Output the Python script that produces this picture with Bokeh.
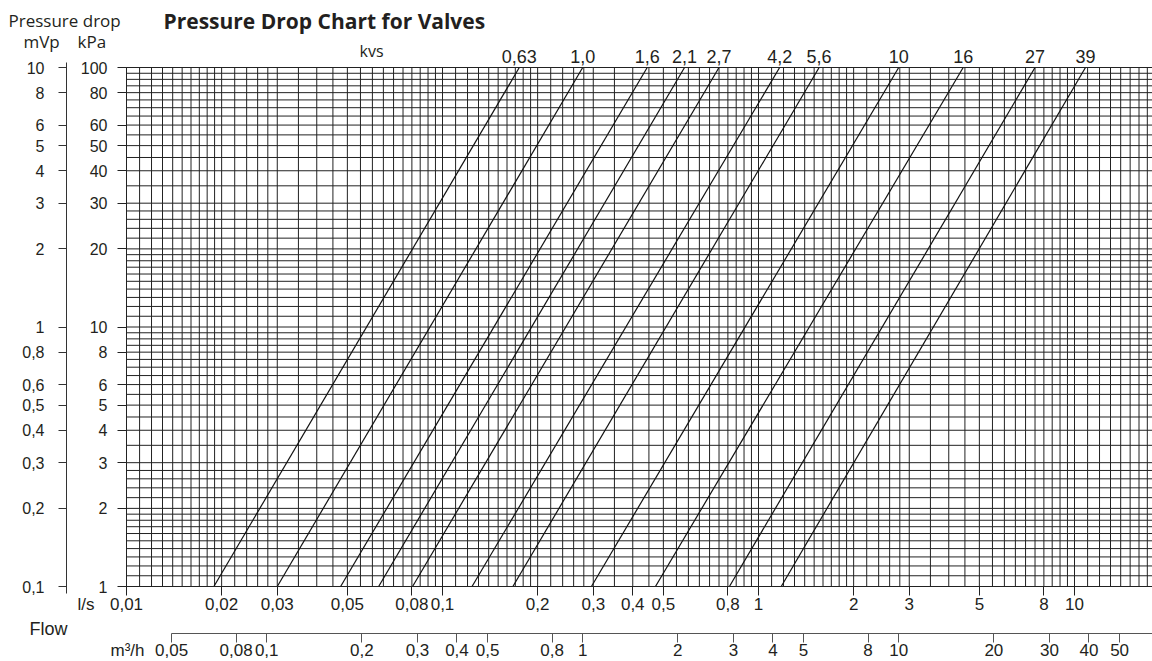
from bokeh.plotting import figure
from bokeh.models import (LogAxis, Range1d, FixedTicker, CustomJSTickFormatter,
                          Label, LogScale)
from bokeh.embed import file_html
from bokeh.resources import INLINE

# ---------------- data ----------------
kvs_values = [0.63, 1.0, 1.6, 2.1, 2.7, 4.2, 5.6, 10, 16, 27, 39]
kvs_labels = ["0,63", "1,0", "1,6", "2,1", "2,7", "4,2", "5,6", "10", "16", "27", "39"]
# flow (l/s) where each kvs line reaches 1 kPa
flow_at_1kpa_ls = [0.0189, 0.0300, 0.0476, 0.0628, 0.0804, 0.124, 0.167,
                   0.296, 0.472, 0.809, 1.18]
dp_top_kpa = 100
dp_bottom_kpa = 1
M3H_PER_LS = 3.6
MVP_PER_KPA = 0.1

ls_ticks = [0.01, 0.02, 0.03, 0.05, 0.08, 0.1, 0.2, 0.3, 0.4, 0.5, 0.8,
            1, 2, 3, 5, 8, 10]
m3h_ticks = [0.05, 0.08, 0.1, 0.2, 0.3, 0.4, 0.5, 0.8, 1, 2, 3, 4, 5, 8,
             10, 20, 30, 40, 50]
kpa_ticks = [1, 2, 3, 4, 5, 6, 8, 10, 20, 30, 40, 50, 60, 80, 100]
mvp_ticks = [0.1, 0.2, 0.3, 0.4, 0.5, 0.6, 0.8, 1, 2, 3, 4, 5, 6, 8, 10]

grid_mantissas = [1.0, 1.1, 1.2, 1.3, 1.4, 1.5, 1.6, 1.7, 1.8, 1.9,
                  2.0, 2.2, 2.4, 2.6, 2.8,
                  3.0, 3.5, 4.0, 4.5, 5.0, 5.5, 6.0, 6.5, 7.0, 7.5,
                  8.0, 8.5, 9.0, 9.5]
x_decades = [0.01, 0.1, 1, 10]
y_decades = [1, 10, 100]
FLOW_MIN_LS = 0.01

# ---------------- layout (page pixels) ----------------
W, H = 1152, 661
X0_PX, Y0_PX = 126, 586        # where 0.01 l/s and 1 kPa sit
PX_DEC_X, PX_DEC_Y = 316, 259.5


def x_at(px):
    return FLOW_MIN_LS * 10 ** ((px - X0_PX) / PX_DEC_X)


def y_at(py):
    return dp_bottom_kpa * 10 ** ((Y0_PX - py) / PX_DEC_Y)


X_END = x_at(W)

xgrid_vals = sorted({round(m * d, 6) for d in x_decades for m in grid_mantissas
                     if m * d <= X_END})
ygrid_vals = sorted({round(m * d, 6) for d in y_decades for m in grid_mantissas
                     if m * d <= dp_top_kpa})

TXT = "#231f20"
GRID = "#222222"
NUM_FONT = "Liberation Sans"
HEAD_FONT = "Open Sans"

p = figure(width=W, height=H, x_axis_type="log", y_axis_type="log",
           x_range=Range1d(x_at(0), x_at(W)), y_range=Range1d(y_at(H), y_at(0)),
           output_backend="svg", toolbar_location=None, min_border=0)
p.outline_line_color = None
p.background_fill_color = "white"
p.grid.visible = False

p.extra_x_ranges = {"m3h": Range1d(x_at(0) * M3H_PER_LS, x_at(W) * M3H_PER_LS)}
p.extra_x_scales = {"m3h": LogScale()}
p.extra_y_ranges = {"mvp": Range1d(y_at(H) * MVP_PER_KPA, y_at(0) * MVP_PER_KPA)}
p.extra_y_scales = {"mvp": LogScale()}

comma_fmt = CustomJSTickFormatter(code="return String(tick).replace('.', ',');")
kvs_fmt = CustomJSTickFormatter(args=dict(vals=kvs_values, labels=kvs_labels), code="""
    let best = 0;
    for (let i = 0; i < vals.length; i++) {
        if (Math.abs(Math.log(vals[i]) - Math.log(tick)) <
            Math.abs(Math.log(vals[best]) - Math.log(tick))) best = i;
    }
    return labels[best];
""")


def style_axis(ax, size="16px"):
    ax.formatter = comma_fmt
    ax.major_tick_in = 0
    ax.minor_tick_in = 0
    ax.minor_tick_out = 0
    ax.major_tick_line_color = GRID
    ax.axis_line_color = GRID
    ax.major_label_text_font = NUM_FONT
    ax.major_label_text_font_size = size
    ax.major_label_text_color = TXT


# ---- grid (drawn only inside the chart field) ----
p.segment(x0=xgrid_vals, y0=[dp_bottom_kpa] * len(xgrid_vals),
          x1=xgrid_vals, y1=[dp_top_kpa] * len(xgrid_vals),
          line_color=GRID, line_width=1)
p.segment(x0=[FLOW_MIN_LS] * len(ygrid_vals), y0=ygrid_vals,
          x1=[X_END] * len(ygrid_vals), y1=ygrid_vals,
          line_color=GRID, line_width=1)

# ---- kvs lines ----
top_flow_ls = [k / M3H_PER_LS for k in kvs_values]
p.segment(x0=top_flow_ls, y0=[dp_top_kpa] * len(kvs_values),
          x1=flow_at_1kpa_ls, y1=[dp_bottom_kpa] * len(kvs_values),
          line_color="#111111", line_width=1.2)

# ---- axes ----
# l/s axis along the bottom of the field
ax_ls = p.xaxis[0]
style_axis(ax_ls, "17px")
ax_ls.ticker = FixedTicker(ticks=ls_ticks)
ax_ls.fixed_location = dp_bottom_kpa
ax_ls.bounds = (FLOW_MIN_LS, X_END)
ax_ls.major_tick_out = 9
ax_ls.major_label_standoff = 2

# m3/h axis below it
ax_m3h = LogAxis(x_range_name="m3h", ticker=FixedTicker(ticks=m3h_ticks),
                 fixed_location=y_at(633),
                 bounds=(m3h_ticks[0], X_END * M3H_PER_LS))
style_axis(ax_m3h, "17px")
ax_m3h.major_tick_out = 9
ax_m3h.major_label_standoff = 1
ax_m3h.axis_line_color = "#555555"
ax_m3h.major_tick_line_color = "#555555"
p.add_layout(ax_m3h, "below")

# kPa axis on the left edge of the field
ax_kpa = p.yaxis[0]
style_axis(ax_kpa, "16px")
ax_kpa.ticker = FixedTicker(ticks=kpa_ticks)
ax_kpa.fixed_location = FLOW_MIN_LS
ax_kpa.bounds = (dp_bottom_kpa, dp_top_kpa)
ax_kpa.major_tick_out = 9
ax_kpa.major_label_standoff = 10

# mVp axis further left
ax_mvp = LogAxis(y_range_name="mvp", ticker=FixedTicker(ticks=mvp_ticks),
                 fixed_location=x_at(66),
                 bounds=(y_at(593) * MVP_PER_KPA, y_at(62) * MVP_PER_KPA))
style_axis(ax_mvp, "16px")
ax_mvp.major_tick_out = 8
ax_mvp.major_label_standoff = 14
ax_mvp.axis_line_color = "#333333"
ax_mvp.major_tick_line_color = "#333333"
p.add_layout(ax_mvp, "left")

# kvs labels along the top of the field
ax_kvs = LogAxis(x_range_name="m3h", ticker=FixedTicker(ticks=kvs_values),
                 fixed_location=dp_top_kpa,
                 bounds=(FLOW_MIN_LS * M3H_PER_LS, X_END * M3H_PER_LS))
style_axis(ax_kvs, "18px")
ax_kvs.formatter = kvs_fmt
ax_kvs.major_tick_out = 0
ax_kvs.major_label_standoff = 5
p.add_layout(ax_kvs, "above")


# ---- free texts (px, py = left edge and baseline in page pixels) ----
def add_text(text, px, py, font=HEAD_FONT, size=17, style="normal"):
    lift = 0.4 * size      # renderer places the baseline this much lower
    p.add_layout(Label(x=x_at(px), y=y_at(py - lift), text=text, text_font=font,
                       text_font_size=f"{size}px", text_font_style=style,
                       text_color=TXT, text_align="left",
                       text_baseline="alphabetic"))


add_text("Pressure Drop Chart for Valves", 163, 29, size=21, style="bold")
add_text("Pressure drop", 8, 27)
add_text("mVp", 23, 48)
add_text("kPa", 77, 48)
add_text("kvs", 359, 57, size=16)
add_text("l/s", 77, 611, font=NUM_FONT, size=17)
add_text("Flow", 29, 636, font=NUM_FONT, size=18)
add_text("m³/h", 110, 657, font=NUM_FONT, size=17)

open("out.html", "w").write(file_html(p, INLINE))
